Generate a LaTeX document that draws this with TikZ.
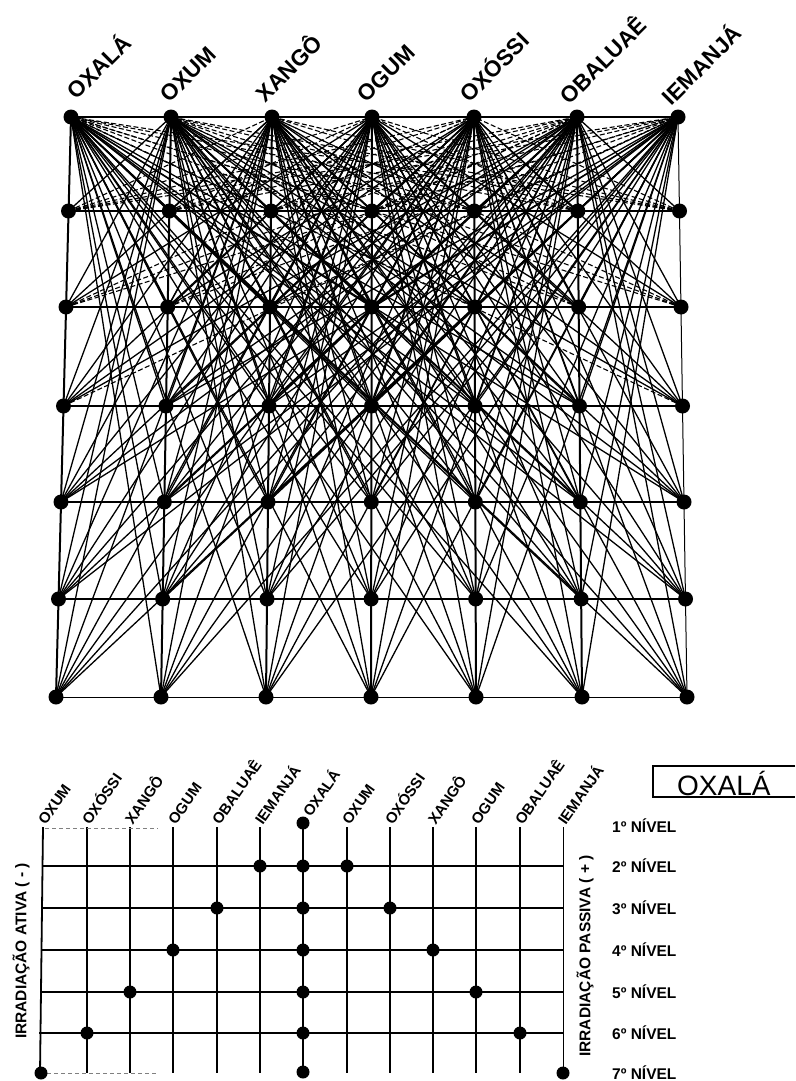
\documentclass[tikz,border=0pt]{standalone}
\usepackage{fontspec}
\setmainfont{Liberation Sans}
\begin{document}
\begin{tikzpicture}[x=1pt,y=-1pt,
  dot/.style={circle,fill=black,inner sep=0pt,minimum size=15pt},
  ldot/.style={circle,fill=black,inner sep=0pt,minimum size=13pt},
  gridline/.style={line width=2pt},
  thingrid/.style={line width=1pt},
  ray/.style={line width=1.3pt},
  shallow/.style={line width=1.1pt,dash pattern=on 5pt off 2.5pt},
  toplab/.style={rotate=45,anchor=south west,inner sep=0pt,font=\bfseries\fontsize{22.5}{26}\selectfont},
  botlab/.style={rotate=55,anchor=south west,inner sep=0pt,font=\bfseries\fontsize{15}{17}\selectfont},
  side/.style={rotate=90,inner sep=0pt,font=\bfseries\fontsize{15.5}{18}\selectfont},
  level/.style={anchor=base west,inner sep=0pt,font=\bfseries\fontsize{15.5}{18}\selectfont},
  vline/.style={line width=1.8pt},
  hline/.style={line width=1.5pt},
  faint/.style={line width=0.6pt,gray,dash pattern=on 4pt off 3pt}
]
\useasboundingbox (0,0) rectangle (795,1081);

% ---------- upper diagram: grid points ----------
\foreach \r in {0,...,6}{
  \foreach \c in {0,...,6}{
    \pgfmathsetmacro\xa{{71,171,272,372,474,577,678}[\c]}
    \pgfmathsetmacro\xb{{56,161,266,371,476,582,687}[\c]}
    \pgfmathsetmacro\yy{{117,211,307,406,502,599,697}[\r]}
    \pgfmathsetmacro\xx{\xa+(\xb-\xa)*\r/6}
    \coordinate (p-\r-\c) at (\xx,\yy);
  }
}

% rays: every node of rows 2..7 to every node of the top row
\foreach \r in {1,...,6}{
  \foreach \c in {0,...,6}{
    \foreach \t in {0,...,6}{
      \ifnum\t=\c\relax\else
        \pgfmathtruncatemacro\isd{abs(\t-\c)>=2*\r ? 1 : 0}
        \ifnum\isd=1
          \draw[shallow] (p-\r-\c) -- (p-0-\t);
        \else
          \draw[ray] (p-\r-\c) -- (p-0-\t);
        \fi
      \fi
    }
  }
}

% grid lines
\foreach \r in {0,...,5}{\draw[gridline] (p-\r-0) -- (p-\r-6);}
\draw[thingrid] (p-6-0) -- (p-6-6);
\foreach \c in {0,...,5}{\draw[gridline] (p-0-\c) -- (p-6-\c);}
\draw[thingrid] (p-0-6) -- (p-6-6);

% dots
\foreach \r in {0,...,6}{
  \foreach \c in {0,...,6}{
    \node[dot] (n-\r-\c) at (p-\r-\c) {};
  }
}

% top labels
\foreach \c/\x/\y/\nm in {0/77/101/OXALÁ,1/170/104/OXUM,2/266/104/XANGÔ,3/367/104/OGUM,4/470/104/OXÓSSI,5/570/106/OBALUAÊ,6/672/107/IEMANJÁ}{
  \node[toplab] (t-\c) at (\x,\y) {\nm};
}

% ---------- lower diagram ----------
\foreach \i/\x in {1/87,2/130,3/173,4/217,5/260,7/347,8/390,9/433,10/476,11/520}{
  \coordinate (bt-\i) at (\x,827);
  \coordinate (bb-\i) at (\x,1073);
  \draw[vline] (bt-\i) -- (bb-\i);
}
\coordinate (bt-0) at (43,827);
\coordinate (bb-0) at (40,1073);
\draw[vline] (bt-0) -- (bb-0);
\coordinate (bt-12) at (563,827);
\coordinate (bb-12) at (563,1073);
\draw[line width=0.8pt] (bt-12) -- (bb-12);

% horizontal level lines
\foreach \l/\y/\xl in {2/866/42,3/908/42,4/950/41,5/992/40,6/1033/39}{
  \coordinate (hl-\l) at (\xl,\y);
  \coordinate (hr-\l) at (563,\y);
  \draw[hline] (hl-\l) -- (hr-\l);
}
% faint level 1 and 7 traces
\coordinate (f1a) at (45,828); \coordinate (f1b) at (158,828);
\coordinate (f7a) at (47,1073); \coordinate (f7b) at (158,1073);
\draw[faint] (f1a) -- (f1b);
\draw[faint] (f7a) -- (f7b);

% OXALÁ column
\coordinate (oxt) at (303,823);
\coordinate (oxb) at (303,1072);
\draw[line width=2.6pt] (oxt) -- (oxb);
\foreach \l/\y in {1/823,2/866,3/908,4/950,5/992,6/1033,7/1072}{
  \node[ldot] (ox-\l) at (303,\y) {};
}

% level dots
\node[ldot] (l-2) at (260,866) {};
\node[ldot] (l-3) at (217,908) {};
\node[ldot] (l-4) at (173,950) {};
\node[ldot] (l-5) at (130,992) {};
\node[ldot] (l-6) at (87,1033) {};
\node[ldot] (l-7) at (41,1073) {};
\node[ldot] (r-2) at (347,866) {};
\node[ldot] (r-3) at (390,908) {};
\node[ldot] (r-4) at (433,950) {};
\node[ldot] (r-5) at (476,992) {};
\node[ldot] (r-6) at (520,1033) {};
\node[ldot] (r-7) at (563,1073) {};

% lower labels
\foreach \i/\x/\nm in {0/43/OXUM,1/87/OXÓSSI,2/130/XANGÔ,3/173/OGUM,4/217/OBALUAÊ,5/260/IEMANJÁ,7/347/OXUM,8/390/OXÓSSI,9/433/XANGÔ,10/476/OGUM,11/520/OBALUAÊ,12/563/IEMANJÁ}{
  \node[botlab] (bl-\i) at (\x+3,826) {\nm};
}
\node[botlab] (bl-6) at (311,818) {OXALÁ};

% side labels
\node[side] (ativa) at (21,951) {IRRADIAÇÃO ATIVA ( - )};
\node[side] (passiva) at (585,956) {IRRADIAÇÃO PASSIVA ( + )};

% level labels
\foreach \l/\y in {1/832,2/872,3/914,4/956,5/998,6/1039,7/1079}{
  \node[level] (lv-\l) at (612,\y) {\l{}º NÍVEL};
}

% OXALÁ box
\node[anchor=base west,inner sep=0pt,font=\fontsize{28}{32}\selectfont] (title) at (677,795) {OXALÁ};
\draw[line width=1.2pt] (795,766) -- (653,766) -- (653,797) -- (795,797);
\end{tikzpicture}
\end{document}
